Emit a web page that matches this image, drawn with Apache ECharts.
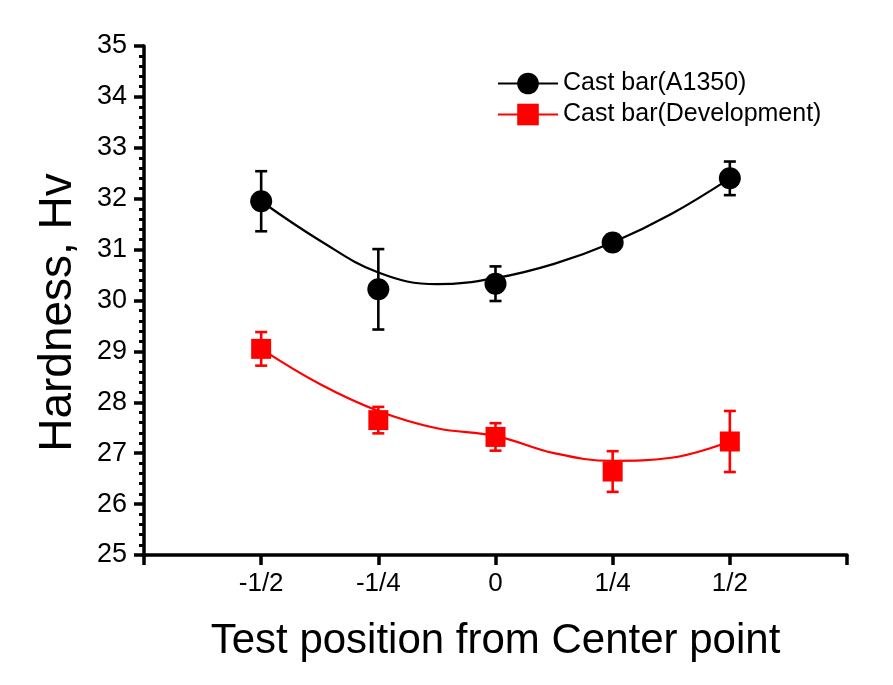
<!DOCTYPE html>
<html>
<head>
<meta charset="utf-8">
<script src="https://cdn.jsdelivr.net/npm/echarts@6/dist/echarts.min.js"></script>
<style>html,body{margin:0;padding:0;background:#fff;}#chart{width:893px;height:685px;}</style>
</head>
<body>
<div id="chart"></div>
<script>
// Data
var positions = [-0.5, -0.25, 0, 0.25, 0.5];
var tickLabels = ['', '-1/2', '-1/4', '0', '1/4', '1/2', ''];
var seriesNames = ['Cast bar(A1350)', 'Cast bar(Development)'];
var a1350Mean = [31.95, 30.22, 30.33, 31.14, 32.40];
var a1350Err  = [0.59, 0.79, 0.34, 0.10, 0.33];
var devMean = [29.05, 27.65, 27.32, 26.64, 27.23];
var devErr  = [0.33, 0.26, 0.27, 0.40, 0.60];
// fitted curves at every 1/8
var fitPositions = [-0.5, -0.375, -0.25, -0.125, 0, 0.125, 0.25, 0.375, 0.5];
var a1350Fit = [31.95, 31.18, 30.55, 30.32, 30.44, 30.72, 31.14, 31.70, 32.40];
var devFit   = [29.05, 28.36, 27.83, 27.49, 27.34, 27.00, 26.85, 26.91, 27.23];

function pairs(xs, ys) { return xs.map(function (x, i) { return [x, ys[i]]; }); }
function errData(xs, ys, es) { return xs.map(function (x, i) { return [x, ys[i], es[i]]; }); }

function errRender(color) {
  return function (params, api) {
    var x = api.value(0), y = api.value(1), e = api.value(2);
    var top = api.coord([x, y + e]);
    var bot = api.coord([x, y - e]);
    var hw = 6;
    var st = { stroke: color, lineWidth: 2.6 };
    return {
      type: 'group',
      children: [
        { type: 'line', shape: { x1: top[0], y1: top[1], x2: bot[0], y2: bot[1] }, style: st },
        { type: 'line', shape: { x1: top[0] - hw, y1: top[1], x2: top[0] + hw, y2: top[1] }, style: st },
        { type: 'line', shape: { x1: bot[0] - hw, y1: bot[1], x2: bot[0] + hw, y2: bot[1] }, style: st }
      ]
    };
  };
}

var FONT = '"Liberation Sans", Arial, sans-serif';
var chart = echarts.init(document.getElementById('chart'), null, { renderer: 'canvas' });
chart.setOption({
  backgroundColor: '#ffffff',
  animation: false,
  grid: { left: 144, right: 46, top: 46, bottom: 130, containLabel: false },
  legend: {
    orient: 'vertical', left: 492, top: 66,
    itemWidth: 60, itemHeight: 27, itemGap: 6,
    textStyle: { fontFamily: FONT, fontSize: 25, color: '#000' },
    data: seriesNames
  },
  xAxis: {
    type: 'value', min: -0.75, max: 0.75, interval: 0.25,
    name: 'Test position from Center point', nameLocation: 'middle', nameGap: 65,
    nameTextStyle: { fontFamily: FONT, fontSize: 42, color: '#000' },
    axisLine: { onZero: false, lineStyle: { color: '#000', width: 3.5 } },
    axisTick: { show: true, inside: false, length: 10, lineStyle: { color: '#000', width: 3.5 } },
    axisLabel: {
      fontFamily: FONT, fontSize: 26, color: '#000', margin: 16, showMinLabel: true, showMaxLabel: true,
      formatter: function (v) { return tickLabels[Math.round((v + 0.75) / 0.25)]; }
    },
    splitLine: { show: false }
  },
  yAxis: {
    type: 'value', min: 25, max: 35, interval: 1,
    name: 'Hardness, Hv', nameLocation: 'middle', nameGap: 63,
    nameTextStyle: { fontFamily: FONT, fontSize: 46, color: '#000', padding: [0, 24, 0, 0] },
    axisLine: { onZero: false, lineStyle: { color: '#000', width: 3.5 } },
    axisTick: { show: true, inside: false, length: 10, lineStyle: { color: '#000', width: 3.5 } },
    minorTick: { show: true, splitNumber: 5, length: 5, lineStyle: { color: '#000', width: 3 } },
    axisLabel: { fontFamily: FONT, fontSize: 27, color: '#000', margin: 17 },
    splitLine: { show: false }
  },
  series: [
    {
      name: seriesNames[0], type: 'line', smooth: 0.4, data: pairs(fitPositions, a1350Fit),
      showSymbol: false, symbol: 'circle', symbolSize: 22,
      lineStyle: { color: '#000', width: 2.2 }, itemStyle: { color: '#000' }, z: 2
    },
    {
      name: seriesNames[1], type: 'line', smooth: 0.4, data: pairs(fitPositions, devFit),
      showSymbol: false, symbol: 'rect', symbolSize: 20,
      lineStyle: { color: '#ff0000', width: 2.2 }, itemStyle: { color: '#ff0000' }, z: 2
    },
    { type: 'custom', renderItem: errRender('#000'), data: errData(positions, a1350Mean, a1350Err), z: 3 },
    { type: 'custom', renderItem: errRender('#ff0000'), data: errData(positions, devMean, devErr), z: 3 },
    { type: 'scatter', symbol: 'circle', symbolSize: 22, data: pairs(positions, a1350Mean), itemStyle: { color: '#000', opacity: 1 }, z: 4 },
    { type: 'scatter', symbol: 'rect', symbolSize: 20, data: pairs(positions, devMean), itemStyle: { color: '#ff0000', opacity: 1 }, z: 4 }
  ]
});
</script>
</body>
</html>
